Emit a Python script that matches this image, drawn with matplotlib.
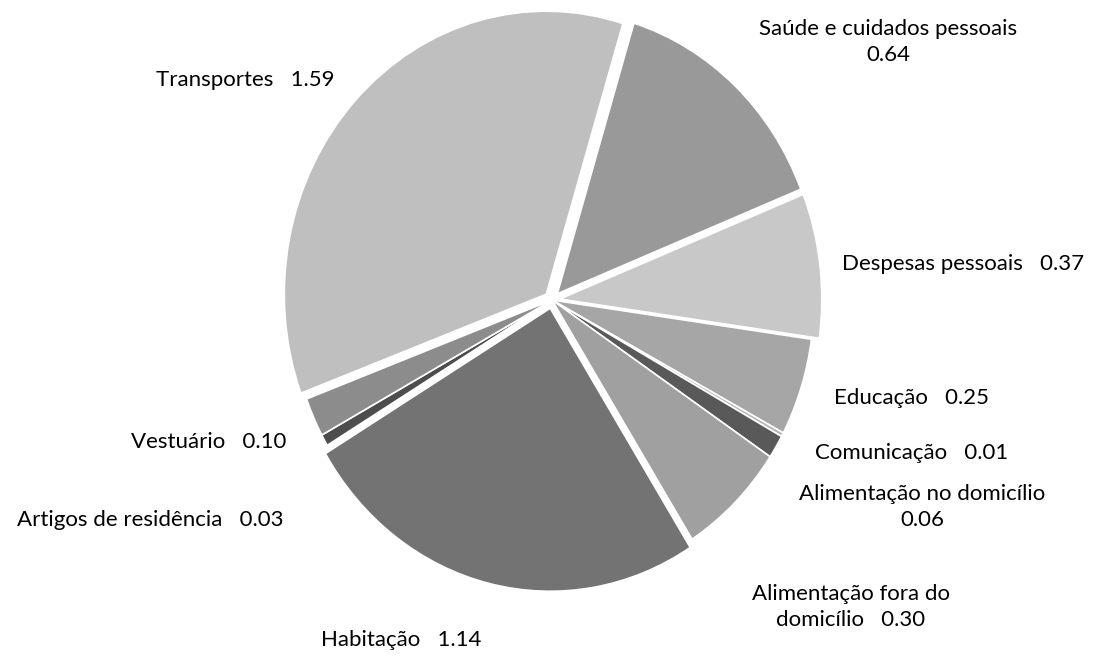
import matplotlib
matplotlib.use('Agg')
import matplotlib.pyplot as plt
from matplotlib import font_manager

# dados (ordem no sentido horario a partir de Saude)
categorias = ['Saúde e cuidados pessoais', 'Despesas pessoais', 'Educação', 'Comunicação',
              'Alimentação no domicílio', 'Alimentação fora do domicílio', 'Habitação',
              'Artigos de residência', 'Vestuário', 'Transportes']
valores = [0.64, 0.37, 0.25, 0.01, 0.06, 0.30, 1.14, 0.03, 0.10, 1.59]
rotulos = ['Saúde e cuidados pessoais\n0.64', 'Despesas pessoais   0.37', 'Educação   0.25',
           'Comunicação   0.01', 'Alimentação no domicílio\n0.06',
           'Alimentação fora do\ndomicílio   0.30', 'Habitação   1.14',
           'Artigos de residência   0.03', 'Vestuário   0.10', 'Transportes   1.59']

cores = ['#999999', '#c8c8c8', '#a6a6a6', '#b4b4b4', '#595959', '#a0a0a0',
         '#737373', '#4d4d4d', '#8c8c8c', '#bfbfbf']
explodir = [0.03, 0.03, 0, 0, 0, 0, 0.03, 0, 0, 0.03]

# posicoes dos rotulos em pixels (centro do texto)
pos_rot = [(888, 42), (963, 264), (911, 398), (912, 453), (922, 507),
           (851, 607), (401, 640), (150, 520), (209, 442), (245, 80)]

nomes = [f.name for f in font_manager.fontManager.ttflist]
fonte = 'Liberation Sans Narrow' if 'Liberation Sans Narrow' in nomes else 'Lato'
plt.rcParams['font.family'] = [fonte, 'DejaVu Sans']

W, H = 1095, 658
fig = plt.figure(figsize=(W / 100, H / 100), dpi=100)
ax = fig.add_axes([0, 0, 1, 1])

cx, cy, rx, ry = 552, 300, 262, 283
ax.pie(valores, colors=cores, explode=explodir, startangle=73, counterclock=False,
       radius=1, wedgeprops=dict(edgecolor='white', linewidth=1.2))
ax.set_aspect('auto')
ax.set_xlim(-cx / rx, (W - cx) / rx)
ax.set_ylim(-(H - cy) / ry, cy / ry)
ax.axis('off')

for txt, (px, py) in zip(rotulos, pos_rot):
    fig.text(px / W, 1 - py / H, txt, ha='center', va='center', fontsize=16,
             color='black', linespacing=1.35)

fig.savefig('out.png', dpi=100, facecolor='white')
